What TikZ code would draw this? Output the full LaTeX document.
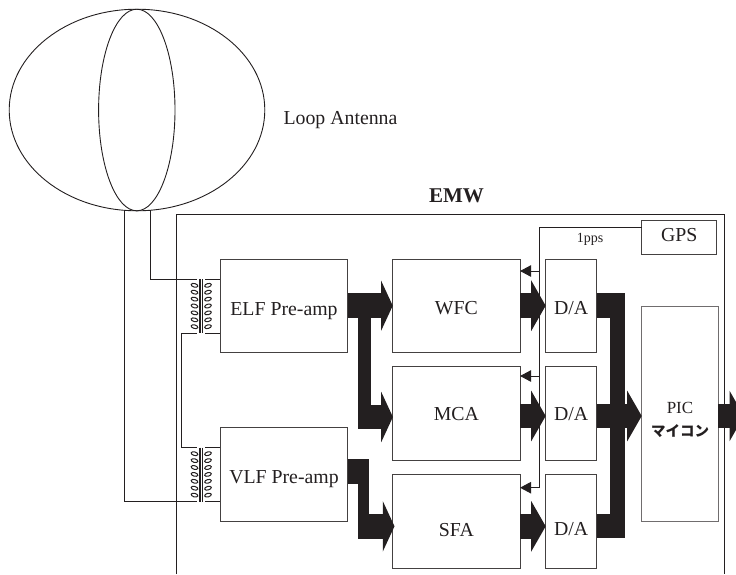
\documentclass[tikz,border=0pt]{standalone}
\usepackage{fontspec}
\setmainfont{Liberation Serif}
\newfontfamily\cjkfont{Noto Sans CJK JP}
\usepackage{tikz}
\usetikzlibrary{shapes.geometric, arrows.meta, positioning}
\definecolor{inkdark}{HTML}{231F20}
\tikzstyle{blockbox} = [
  rectangle, draw=inkdark!85, line width=0.8pt, inner sep=0pt, outer sep=0pt,
  text=inkdark, font=\fontsize{19.8}{22}\selectfont
]
\tikzstyle{bigarrow} = [-{Triangle[length=11.7pt,width=50pt]}, line width=24.6pt, draw=inkdark]
\tikzstyle{daarrow} = [-{Triangle[length=14.5pt,width=50pt]}, line width=24.6pt, draw=inkdark]
\tikzstyle{busline} = [line width=24.6pt, draw=inkdark]
\tikzstyle{wire} = [line width=0.8pt, draw=inkdark]
\tikzstyle{syncarrow} = [-{Triangle[length=11pt,width=11.5pt,fill=inkdark]}, line width=0.9pt, draw=inkdark]
\tikzstyle{caption} = [text=inkdark, inner sep=0pt, font=\fontsize{19.8}{22}\selectfont]
\newcommand{\drop}[2]{\raisebox{-#1pt}[0pt][0pt]{#2}}
\newcommand{\coilpair}[1]{
  \foreach \i in {0,...,6} {
    \draw[wire, line width=1pt, rotate around={-15:(194.5, {#1+6+\i*6.9})}] (194.5, {#1+6+\i*6.9}) ellipse [x radius=3.4, y radius=1.8];
    \draw[wire, line width=1pt, rotate around={15:(208, {#1+6+\i*6.9})}] (208, {#1+6+\i*6.9}) ellipse [x radius=3.4, y radius=1.8];
  }
  \draw[wire, line width=1.4pt] (200.1, #1) -- (200.1, #1+54);
  \draw[wire, line width=1.4pt] (202.6, #1) -- (202.6, #1+54);
}

\begin{document}
\begin{tikzpicture}[x=1pt, y=-1pt]
  \useasboundingbox (0, 0) rectangle (736, 574);

  % antenna
  \node[ellipse, draw=inkdark, line width=0.9pt, minimum width=255.6pt, minimum height=201.6pt, inner sep=0pt, outer sep=0pt] (loop) at (137, 110) {};
  \node[ellipse, draw=inkdark, line width=0.9pt, minimum width=76.4pt, minimum height=201.6pt, inner sep=0pt, outer sep=0pt] (loopin) at (136.8, 110) {};
  \node[caption] (looplbl) at (340.5, 120) {Loop Antenna};

  % frame
  \draw[line width=1pt, draw=inkdark] (176, 574) -- (176, 214) -- (724.3, 214) -- (724.3, 574);
  \node[caption, font=\fontsize{21}{24}\selectfont\bfseries] (emw) at (456.5, 196) {EMW};

  % blocks
  \node[blockbox, minimum width=127.4pt, minimum height=93.3pt] (elf) at (284, 305.7) {\drop{9.3}{ELF Pre-amp}};
  \node[blockbox, minimum width=127.4pt, minimum height=93.3pt] (vlf) at (284, 474.4) {\drop{8.9}{VLF Pre-amp}};
  \node[blockbox, minimum width=127.3pt, minimum height=93.3pt] (wfc) at (456.4, 305.7) {\drop{8.3}{WFC}};
  \node[blockbox, minimum width=127.3pt, minimum height=93.3pt] (mca) at (456.4, 413.4) {\drop{7.3}{MCA}};
  \node[blockbox, minimum width=127.3pt, minimum height=93.6pt] (sfa) at (456.4, 521.5) {\drop{14.5}{SFA}};
  \node[blockbox, minimum width=51pt, minimum height=93.3pt] (da1) at (571.2, 305.7) {\drop{8.6}{D/A}};
  \node[blockbox, minimum width=51pt, minimum height=93.3pt] (da2) at (571.2, 413.4) {\drop{6.6}{D/A}};
  \node[blockbox, minimum width=51pt, minimum height=93.6pt] (da3) at (571.2, 521.5) {\drop{13.5}{D/A}};
  \node[blockbox, minimum width=75pt, minimum height=33.6pt] (gps) at (679.2, 237.5) {\drop{3.5}{GPS}};
  \node[blockbox, draw=inkdark!65, line width=1pt, minimum width=76.6pt, minimum height=215pt] (pic) at (680, 413.5) {};
  \node[caption, align=center, font=\fontsize{17}{23}\selectfont] (piclbl) at (680, 420) {PIC\\{\cjkfont\fontsize{14.5}{23}\selectfont\bfseries マイコン}};
  \node[caption, font=\fontsize{14}{16}\selectfont] (pps) at (590, 239) {1pps};

  % transformers
  \coilpair{279.3}
  \coilpair{447.7}
  \coordinate (elftop) at (197, 279.3);
  \coordinate (elfbot) at (197, 333.3);
  \coordinate (vlftop) at (197, 447.7);
  \coordinate (vlfbot) at (197, 501.7);
  \draw[wire] (loop.south -| 150.3, 0) ++(0, -0.7) |- (elftop);
  \draw[wire] (loop.south -| 124.3, 0) ++(0, -0.7) |- (vlfbot);
  \draw[wire] (elfbot) -| (181.7, 390) |- (vlftop);
  \draw[wire] (205, 279.3) -- (elf.west |- elftop);
  \draw[wire] (205, 333.3) -- (elf.west |- elfbot);
  \draw[wire] (205, 447.7) -- (vlf.west |- vlftop);
  \draw[wire] (205, 501.7) -- (vlf.west |- vlfbot);

  % data flow
  \draw[bigarrow] (elf.east) -- (wfc.west);
  \draw[busline, line width=12.4pt] (364.5, 306) -- (364.5, 429.3);
  \draw[bigarrow] (358.3, 417) -- (392.9, 417);
  \coordinate (vlfout) at (vlf.east |- 0, 471.7);
  \draw[busline] (vlfout) -- (369, 471.7);
  \draw[busline, line width=10.7pt] (363.7, 459.3) -- (363.7, 539);
  \draw[bigarrow] (358.3, 526.3) -- (394.5, 526.3);

  \draw[daarrow] (wfc.east) -- (da1.west);
  \draw[daarrow] (520, 416) -- (545.7, 416);
  \draw[daarrow] (520, 526.3) -- (545.7, 526.3);

  \draw[busline] (da1.east) -- (625.3, 305.7);
  \draw[busline] (596.7, 526) -- (625.3, 526);
  \draw[busline, line width=15.3pt] (617.6, 293.4) -- (617.6, 538.3);
  \draw[daarrow] (596.7, 416) -- (641.7, 416);
  \coordinate (picout) at (744, 416);
  \draw[daarrow] (718.3, 416) -- (picout);

  % sync line
  \draw[wire] (gps.west |- 0, 227.7) -| (539, 487.7);
  \draw[syncarrow] (539, 271) -- (wfc.east |- 0, 271);
  \draw[syncarrow] (539, 376) -- (mca.east |- 0, 376);
  \draw[syncarrow] (539, 487.7) -- (sfa.east |- 0, 487.7);
\end{tikzpicture}
\end{document}
